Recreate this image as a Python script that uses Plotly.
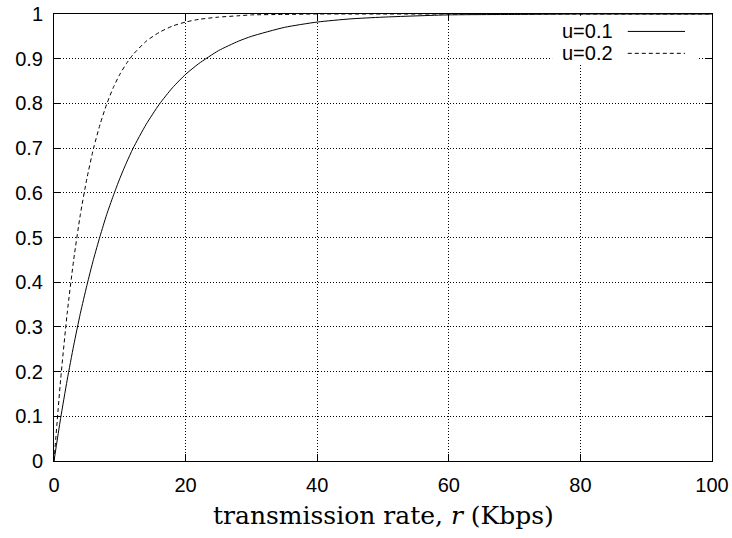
import plotly.graph_objects as go

# transmission rate r (Kbps)
rate = [0, 1, 2, 3, 4, 5, 6, 7, 8, 9, 10, 11, 12, 14, 16, 18, 20, 22, 25, 28,
        30, 35, 40, 45, 50, 60, 70, 80, 90, 100]
# u = 0.1
u01 = [0, 0.095, 0.181, 0.259, 0.330, 0.393, 0.451, 0.503, 0.551, 0.593, 0.632,
       0.667, 0.699, 0.753, 0.798, 0.835, 0.865, 0.889, 0.918, 0.939,
       0.950, 0.970, 0.982, 0.989, 0.993, 0.998, 0.999, 1.000, 1.000, 1.000]
# u = 0.2
u02 = [0, 0.181, 0.330, 0.451, 0.551, 0.632, 0.699, 0.753, 0.798, 0.835, 0.865,
       0.889, 0.909, 0.939, 0.959, 0.973, 0.982, 0.988, 0.993, 0.996,
       0.998, 0.999, 1.000, 1.000, 1.000, 1.000, 1.000, 1.000, 1.000, 1.000]

x_ticks = [0, 20, 40, 60, 80, 100]
y_ticks = [0, 0.1, 0.2, 0.3, 0.4, 0.5, 0.6, 0.7, 0.8, 0.9, 1]
y_tick_text = ["0", "0.1", "0.2", "0.3", "0.4", "0.5", "0.6", "0.7", "0.8", "0.9", "1"]
legend_labels = ["u=0.1", "u=0.2"]
x_title = "transmission rate, <i>r</i> (Kbps)"

fig = go.Figure()
fig.add_trace(go.Scatter(x=rate, y=u01, mode="lines", name=legend_labels[0],
                         line=dict(color="black", width=1, shape="spline", smoothing=0.6)))
fig.add_trace(go.Scatter(x=rate, y=u02, mode="lines", name=legend_labels[1],
                         line=dict(color="black", width=1, dash="4px,3px", shape="spline", smoothing=0.6)))

tick_font = dict(family="Liberation Sans, Arial, sans-serif", size=20, color="black")
axis_common = dict(showline=True, linecolor="black", linewidth=1, mirror="ticks",
                   ticks="inside", ticklen=7, tickcolor="black", tickwidth=1,
                   showgrid=True, gridcolor="black", gridwidth=1, griddash="1px,2px",
                   zeroline=False, tickfont=tick_font, automargin=False,
                   ticklabelstandoff=6, ticklabeloverflow="allow")

fig.update_layout(
    width=732, height=538,
    margin=dict(l=54, r=20, t=14, b=77),
    plot_bgcolor="white", paper_bgcolor="white",
    showlegend=False,
    xaxis=dict(range=[0, 100], tickvals=x_ticks, **axis_common),
    yaxis=dict(range=[0, 1], tickvals=y_ticks, ticktext=y_tick_text, **axis_common),
)

# axis title
fig.add_annotation(xref="paper", yref="paper", x=0.5, y=-0.123, text=x_title, showarrow=False,
                   xanchor="center", yanchor="middle",
                   font=dict(family="DejaVu Serif, serif", size=25, color="black"))

# opaque key box (gnuplot style)
fig.add_shape(type="rect", xref="paper", yref="paper", x0=0.757, x1=0.979, y0=0.886, y1=0.996,
              fillcolor="white", line=dict(width=0), layer="above")
key_rows = [0.961, 0.912]
dashes = ["solid", "4px,3px"]
for lbl, yy, dsh in zip(legend_labels, key_rows, dashes):
    fig.add_annotation(xref="paper", yref="paper", x=0.853, y=yy, text=lbl, showarrow=False,
                       xanchor="right", yanchor="middle", font=tick_font)
    fig.add_shape(type="line", xref="paper", yref="paper", x0=0.872, x1=0.959, y0=yy, y1=yy,
                  line=dict(color="black", width=1, dash=dsh), layer="above")

# remove the page's default 8px body margin so the figure fills the window exactly
fig.write_html("out.html", config={"displayModeBar": False},
               post_script="document.body.style.margin='0';")
